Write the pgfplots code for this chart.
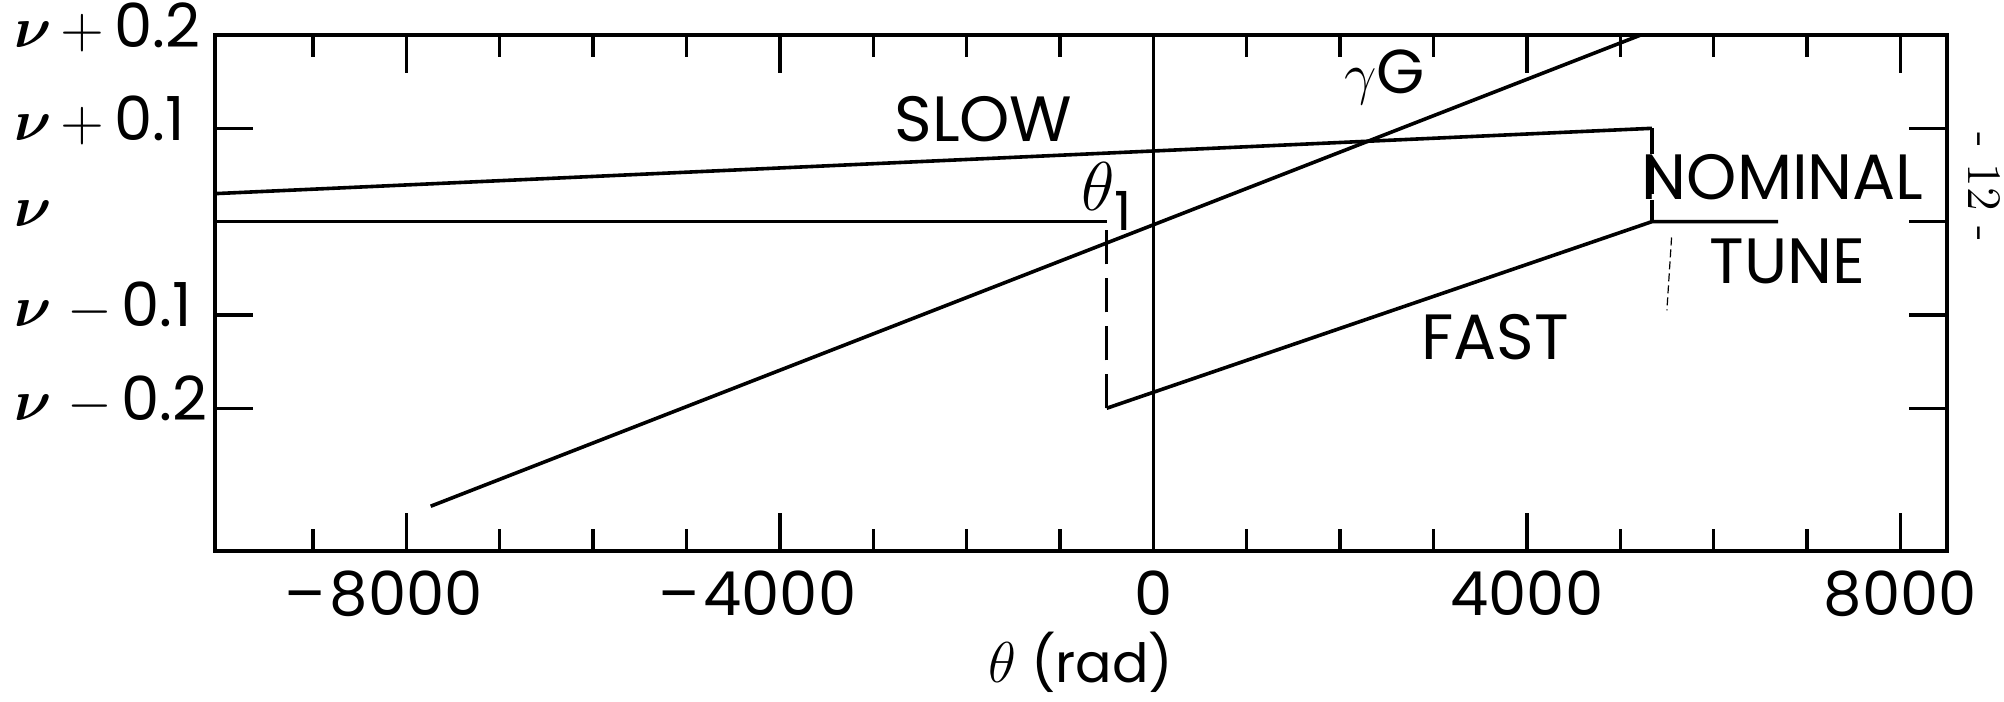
\documentclass[border=0pt]{standalone}
\usepackage{pgfplots}
\pgfplotsset{compat=1.18}
\usepackage{bm}
\usepackage{fontspec}
\newfontfamily\pop{Poppins}
\begin{document}
\begin{tikzpicture}
\begin{axis}[
  scale only axis, width=433pt, height=129pt,
  xmin=-10050, xmax=8500, ymin=-0.353, ymax=0.2,
  scaled x ticks=false, scaled y ticks=false,
  axis line style={line width=0.95pt},
  tick align=inside, tick pos=both,
  every tick/.style={black, line width=0.85pt},
  major tick length=9.5pt, minor tick length=5.5pt,
  xtick={-8000,-4000,0,4000,8000},
  xticklabels={\llap{\textendash\kern1pt}8000,\llap{\textendash\kern1pt}4000,0,4000,8000},
  minor xtick={-9000,-7000,-6000,-5000,-3000,-2000,-1000,1000,2000,3000,5000,6000,7000},
  ytick={-0.2,-0.1,0,0.1,0.2},
  yticklabels={$\bm{\nu}\;{-}\,$0.2,$\bm{\nu}\;{-}\,$0.1,$\bm{\nu}$,$\bm{\nu}\,{+}\,$0.1,$\bm{\nu}\,{+}\,$0.2},
  xticklabel style={font=\pop\fontsize{15.2}{16}\selectfont, yshift=-1.5pt},
  yticklabel style={font=\pop\fontsize{15.2}{16}\selectfont, anchor=west, inner sep=0pt, xshift=-50.4pt, yshift=2pt},
  xlabel={$\theta$ (rad)},
  xlabel style={font=\pop\fontsize{13.5}{15}\selectfont, yshift=3pt},
  clip=false,
]
\addplot[black, line width=0.9pt] coordinates {(0,-0.353) (0,0.2)};
% slow
\addplot[black, line width=0.9pt] coordinates {(-10050,0.030) (5340,0.100)};
\addplot[black, line width=0.9pt, dash pattern=on 6.5pt off 1.3pt on 8.5pt off 1.6pt] coordinates {(5340,0.100) (5340,0)};
% nominal
\addplot[black, line width=0.9pt] coordinates {(-10050,0) (-500,0)};
\addplot[black, line width=0.9pt, dash pattern=on 8.5pt off 3.5pt] coordinates {(-500,-0.2) (-500,0)};
% fast
\addplot[black, line width=0.9pt] coordinates {(-500,-0.2) (5340,0) (6690,0)};
% gamma G
\addplot[black, line width=0.9pt] coordinates {(-7740,-0.305) (5220,0.2)};
% faint scan stroke
\addplot[black, line width=0.3pt, dash pattern=on 2pt off 1pt] coordinates {(5550,-0.017) (5500,-0.095)};
\node[font=\pop\fontsize{16}{18}\selectfont] at (axis cs:-1820,0.1097) {SLOW};
\node[font=\pop\fontsize{16}{18}\selectfont] at (axis cs:3660,-0.1243) {FAST};
\node[font=\pop\fontsize{16}{18}\selectfont] at (axis cs:6740,0.0473) {NOMINAL};
\node[font=\pop\fontsize{16}{18}\selectfont] at (axis cs:6790,-0.0431) {TUNE};
\node[font=\pop\fontsize{15.5}{17}\selectfont] at (axis cs:2480,0.155) {$\gamma$G};
\node[font=\pop\fontsize{16}{18}\selectfont] at (axis cs:-500,0.027) {$\theta$\raisebox{-0.3em}{\fontsize{13.5}{15}\selectfont 1}};
\node[rotate=-90, font=\fontsize{12}{14}\selectfont] at (rel axis cs:1.0215,0.705) {- 12 -};
\coordinate (sw) at (rel axis cs:0,0);
\coordinate (ne) at (rel axis cs:1,1);
\end{axis}
\pgfresetboundingbox
\path[use as bounding box] ([xshift=-53.75pt,yshift=-37.5pt]sw) rectangle ([xshift=14.25pt,yshift=8.75pt]ne);
\end{tikzpicture}
\end{document}
